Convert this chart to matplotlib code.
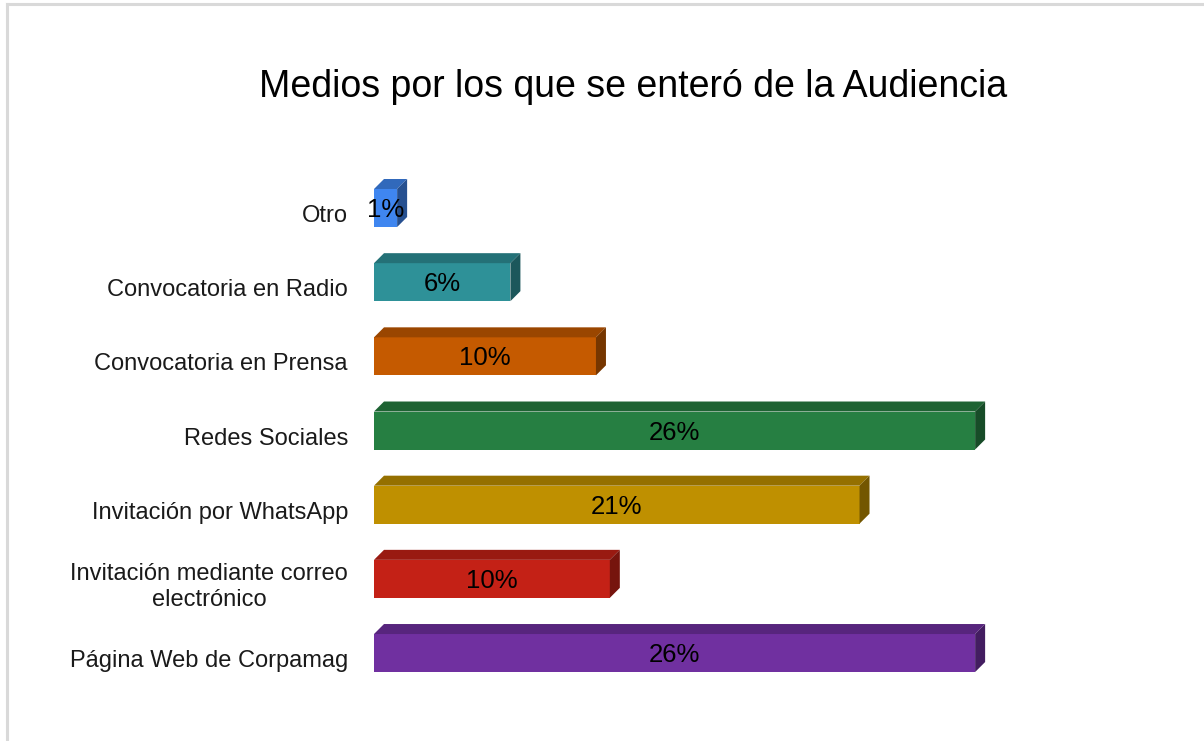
import matplotlib.pyplot as plt
from matplotlib.patches import Polygon, Rectangle
from matplotlib.lines import Line2D
import matplotlib.colors as mcolors
import numpy as np

plt.rcParams['font.family'] = ['Liberation Sans', 'DejaVu Sans']

# data (top to bottom as in the chart)
categorias = ['Otro', 'Convocatoria en Radio', 'Convocatoria en Prensa',
              'Redes Sociales', 'Invitación por WhatsApp',
              'Invitación mediante correo\nelectrónico',
              'Página Web de Corpamag']
porcentajes = [1.0, 5.9, 9.6, 26.0, 21.0, 10.2, 26.0]
etiquetas = ['1%', '6%', '10%', '26%', '21%', '10%', '26%']
colores = ['#3F86F0', '#2E9198', '#C55A00', '#267F42', '#BF9000', '#C42116', '#7030A0']

titulo = 'Medios por los que se enteró de la Audiencia'

W, H = 1204, 741
fig = plt.figure(figsize=(W / 100, H / 100), dpi=100)

# axes placed so 0% sits at px 374, 23.12 px per percent, 74.17 px per category
px_x = 23.12
px_y = 74.17
ax_left, ax_right = 374, 1100
ax_top, ax_bot = 160, 700
ax = fig.add_axes([ax_left / W, 1 - ax_bot / H, (ax_right - ax_left) / W, (ax_bot - ax_top) / H])
ax.set_xlim(0, (ax_right - ax_left) / px_x)
ax.set_ylim((ax_bot - 208) / px_y, -(208 - ax_top) / px_y)
ax.axis('off')

half = 19 / px_y
dx = 10 / px_x
dy = 10 / px_y


def shade(c, f):
    r, g, b = mcolors.to_rgb(c)
    return (r * f, g * f, b * f)


for i, (v, c, lab) in enumerate(zip(porcentajes, colores, etiquetas)):
    top = i - half
    bot = i + half
    ax.add_patch(Rectangle((0, top), v, 2 * half, facecolor=c, edgecolor='none'))
    ax.add_patch(Polygon([(0, top), (v, top), (v + dx, top - dy), (dx, top - dy)],
                         closed=True, facecolor=shade(c, 0.78), edgecolor='none'))
    ax.add_patch(Polygon([(v, top), (v + dx, top - dy), (v + dx, bot - dy), (v, bot)],
                         closed=True, facecolor=shade(c, 0.6), edgecolor='none'))
    ax.text(v / 2, i + 2 / px_y, lab, ha='center', va='center', fontsize=18.5, color='black')
    ax.text(-26 / px_x, i + 8 / px_y, categorias[i], ha='right', va='center', fontsize=17,
            color='#1a1a1a', multialignment='center', linespacing=1.2)

fig.text(633 / W, 1 - 87 / H, titulo, ha='center', va='center', fontsize=27, color='black')

# light frame of the chart area
fig.add_artist(Line2D([7 / W, 7 / W], [0, 1 - 4 / H], color='#d9d9d9', lw=2.2))
fig.add_artist(Line2D([7 / W, 1], [1 - 4 / H, 1 - 4 / H], color='#d9d9d9', lw=2.2))

fig.savefig('out.png', dpi=100)
